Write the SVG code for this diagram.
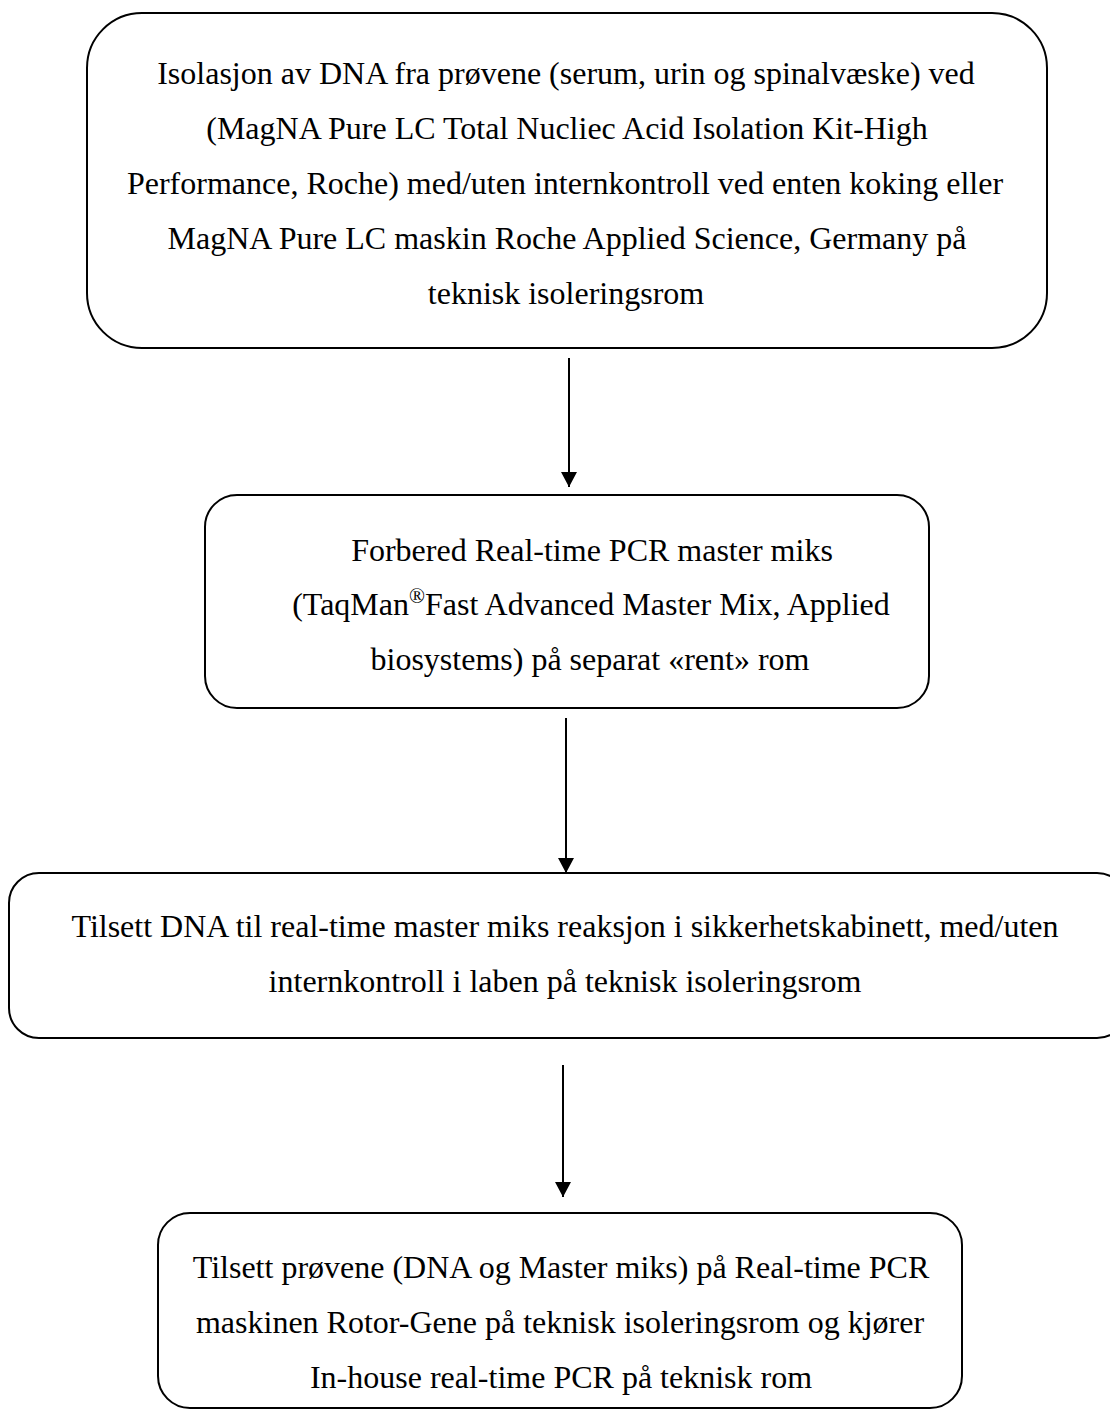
<svg xmlns="http://www.w3.org/2000/svg" width="1110" height="1411" viewBox="0 0 1110 1411">
<style>
.box{fill:#fff;stroke:#000;stroke-width:2}
.t{font-family:"Liberation Serif","Times New Roman",serif;font-size:32px;fill:#000;text-anchor:middle}
.c{stroke:#000;stroke-width:2;fill:none}
</style>
<defs>
<marker id="ah" markerUnits="userSpaceOnUse" markerWidth="16" markerHeight="16" refX="15" refY="8" orient="auto" viewBox="0 0 16 16">
<path d="M0,0 L15,8 L0,16 Z" fill="#000"/>
</marker>
</defs>
<rect width="1110" height="1411" fill="#fff"/>
<g id="node1">
<rect class="box" x="87" y="13" width="960" height="335" rx="55" ry="55"/>
<text class="t" x="566" y="84">Isolasjon av DNA fra prøvene (serum, urin og spinalvæske) ved</text>
<text class="t" x="567" y="139">(MagNA Pure LC Total Nucliec Acid Isolation Kit-High</text>
<text class="t" x="565" y="194">Performance, Roche) med/uten internkontroll ved enten koking eller</text>
<text class="t" x="567" y="249">MagNA Pure LC maskin Roche Applied Science, Germany på</text>
<text class="t" x="566" y="304">teknisk isoleringsrom</text>
</g>
<g id="node2">
<rect class="box" x="205" y="495" width="724" height="213" rx="32" ry="32"/>
<text class="t" x="592" y="561">Forbered Real-time PCR master miks</text>
<text class="t" x="591" y="615">(TaqMan<tspan font-size="21" dy="-12">®</tspan><tspan dy="12">Fast Advanced Master Mix, Applied</tspan></text>
<text class="t" x="590" y="670">biosystems) på separat «rent» rom</text>
</g>
<g id="node3">
<rect class="box" x="9" y="873" width="1118" height="165" rx="30" ry="30"/>
<text class="t" x="565" y="937">Tilsett DNA til real-time master miks reaksjon i sikkerhetskabinett, med/uten</text>
<text class="t" x="565" y="992">internkontroll i laben på teknisk isoleringsrom</text>
</g>
<g id="node4">
<rect class="box" x="158" y="1213" width="804" height="195" rx="32" ry="32"/>
<text class="t" x="561" y="1278">Tilsett prøvene (DNA og Master miks) på Real-time PCR</text>
<text class="t" x="560" y="1333">maskinen Rotor-Gene på teknisk isoleringsrom og kjører</text>
<text class="t" x="561" y="1388">In-house real-time PCR på teknisk rom</text>
</g>
<g id="connectors">
<line class="c" x1="569" y1="358" x2="569" y2="487" marker-end="url(#ah)"/>
<line class="c" x1="566" y1="718" x2="566" y2="873" marker-end="url(#ah)"/>
<line class="c" x1="563" y1="1065" x2="563" y2="1197" marker-end="url(#ah)"/>
</g>
</svg>
